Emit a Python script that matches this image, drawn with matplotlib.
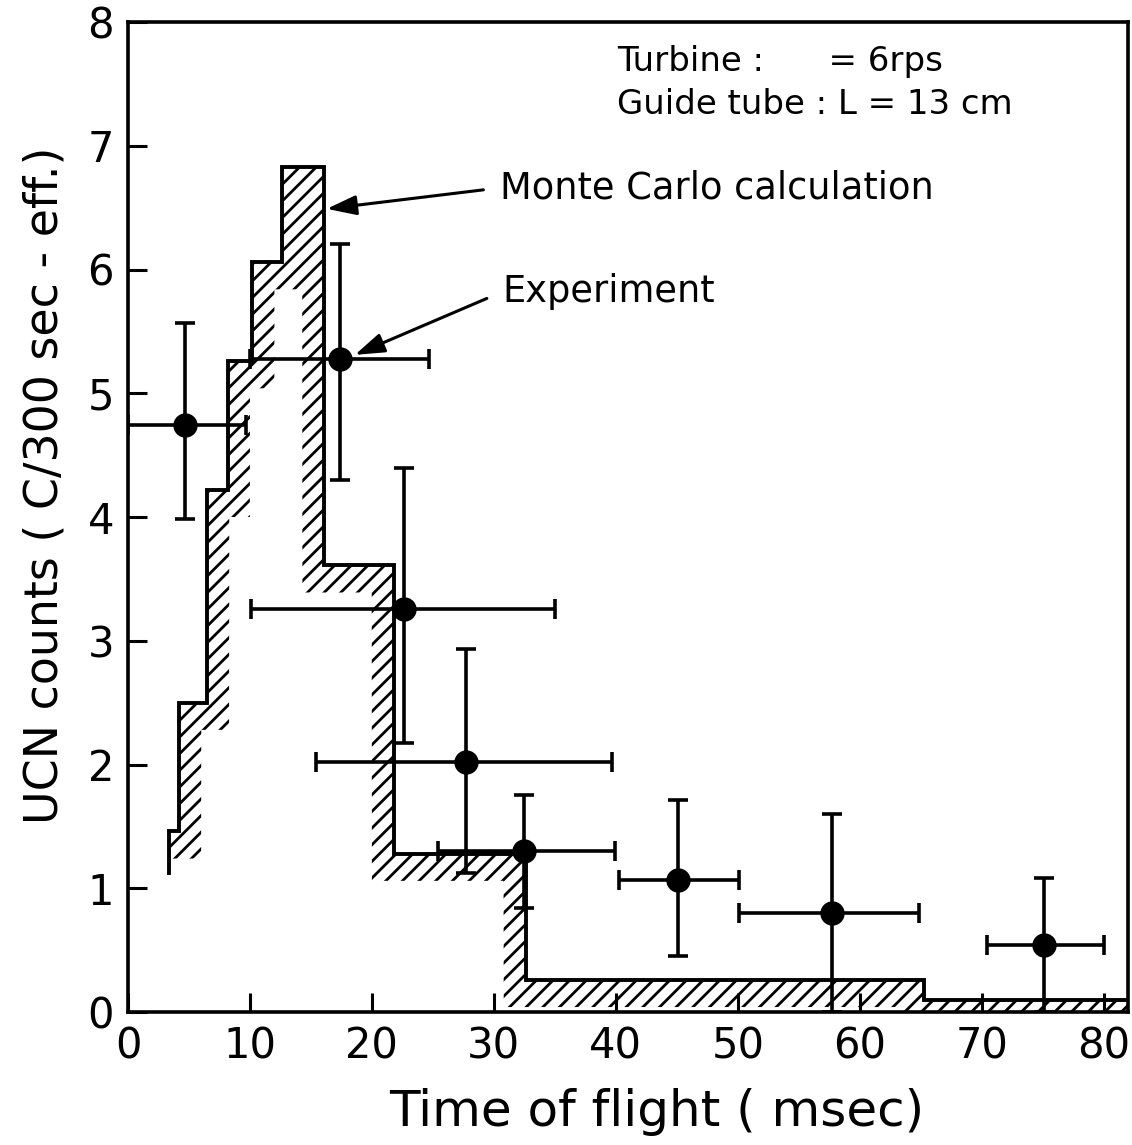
import numpy as np
import matplotlib
matplotlib.use("Agg")
import matplotlib.pyplot as plt

# Monte Carlo calculation (step histogram)
mc_edges = [3.4, 4.2, 6.5, 8.2, 10.2, 12.6, 16.1, 21.8, 32.6, 65.3, 82.0]
mc_counts = [1.46, 2.50, 4.22, 5.26, 6.06, 6.83, 3.61, 1.28, 0.26, 0.10]
mc_start = 1.12

# Experiment points with error bars
exp_t = [4.7, 17.35, 22.6, 27.7, 32.5, 45.1, 57.7, 75.1]
exp_counts = [4.74, 5.28, 3.26, 2.02, 1.30, 1.07, 0.80, 0.54]
exp_t_lo = [0.0, 10.0, 10.1, 15.4, 25.4, 40.3, 50.1, 70.4]
exp_t_hi = [9.7, 24.65, 35.0, 39.7, 39.9, 50.1, 64.9, 80.0]
exp_c_lo = [3.98, 4.30, 2.17, 1.12, 0.84, 0.45, 0.0, 0.0]
exp_c_hi = [5.57, 6.21, 4.40, 2.93, 1.75, 1.71, 1.60, 1.08]

x_ticks = [0, 10, 20, 30, 40, 50, 60, 70, 80]
y_ticks = [0, 1, 2, 3, 4, 5, 6, 7, 8]

# width of the hatched band drawn inside the MC curve
band_dx = 1.8
band_dy = 0.22

plt.rcParams['font.family'] = ['DejaVu Sans']
plt.rcParams['hatch.linewidth'] = 2.0

fig = plt.figure(figsize=(11.32, 11.45), dpi=100)
ax = fig.add_axes([128 / 1132, 1 - 1012 / 1145, 1000 / 1132, 990 / 1145])

edges = np.array(mc_edges)
counts = np.array(mc_counts)

# hatched band: region between the step curve and its inward offset
xs = np.linspace(edges[0], edges[-1], 6000)
idx = np.clip(np.searchsorted(edges, xs, side='right') - 1, 0, len(counts) - 1)
top = counts[idx]
near = (edges[:-1][None, :] < xs[:, None] + band_dx) & (edges[1:][None, :] > xs[:, None] - band_dx)
low = np.where(near, counts[None, :], np.inf).min(axis=1) - band_dy
low = np.clip(low, 0, None)
ax.fill_between(xs, low, top, hatch='//', facecolor='none', edgecolor='black', linewidth=0, zorder=1)

ax.stairs(counts, edges, baseline=None, color='black', linewidth=2.8, zorder=2)
ax.plot([edges[0], edges[0]], [mc_start, counts[0]], color='black', linewidth=2.8, zorder=2)

t = np.array(exp_t)
c = np.array(exp_counts)
xerr = [t - np.array(exp_t_lo), np.array(exp_t_hi) - t]
yerr = [c - np.array(exp_c_lo), np.array(exp_c_hi) - c]
ax.errorbar(t, c, xerr=xerr, yerr=yerr, fmt='o', color='black', markersize=16.5,
            capsize=7.5, elinewidth=2.6, capthick=2.6, zorder=3)

arrow = dict(arrowstyle='-|>,head_length=0.9,head_width=0.3', color='black', lw=2.2,
             mutation_scale=20, relpos=(0, 0.5), shrinkA=10, shrinkB=0)
ax.annotate('Monte Carlo calculation', xy=(16.3, 6.49), xytext=(30.5, 6.66),
            va='center', ha='left', fontsize=26.5, arrowprops=arrow)
ax.annotate('Experiment', xy=(18.6, 5.31), xytext=(30.7, 5.82),
            va='center', ha='left', fontsize=26.5, arrowprops=arrow)

ax.text(40.1, 7.68, 'Turbine :      = 6rps', va='center', ha='left', fontsize=24.5)
ax.text(40.1, 7.33, 'Guide tube : L = 13 cm', va='center', ha='left', fontsize=24.5)

ax.set_xlim(0, 82)
ax.set_ylim(0, 8)
ax.set_xticks(x_ticks)
ax.set_yticks(y_ticks)
ax.tick_params(direction='in', length=14, width=2.2, labelsize=30)
ax.tick_params(axis='x', pad=10)
ax.tick_params(axis='y', pad=10)
for s in ax.spines.values():
    s.set_linewidth(2.6)

fig.text(45 / 1132, 1 - 485 / 1145, 'UCN counts ( C/300 sec - eff.)', rotation=90,
         ha='center', va='center', fontsize=33)
fig.text(657 / 1132, 1 - 1112 / 1145, 'Time of flight ( msec)', ha='center', va='center',
         fontsize=36)

fig.savefig('out.png', dpi=100)
